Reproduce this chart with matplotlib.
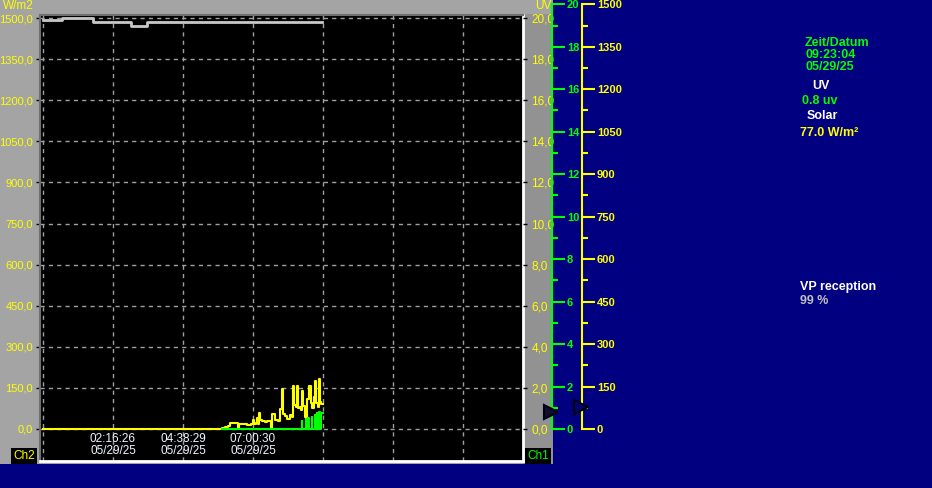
import matplotlib
matplotlib.use('Agg')
import matplotlib.pyplot as plt
import matplotlib.dates as md
from matplotlib.patches import Rectangle
import pandas as pd

plt.rcParams['font.family'] = ['Liberation Sans', 'DejaVu Sans']

# solar radiation (W/m2), step samples
solar_time = ['2025-05-28 23:54:24', '05:58', '06:04', '06:10', '06:14', '06:28', '06:30', '06:32',
              '06:48', '06:56', '07:00', '07:02', '07:06', '07:08', '07:10', '07:12', '07:15',
              '07:18', '07:24', '07:28', '07:38', '07:40', '07:46', '07:52', '07:56', '08:00',
              '08:02', '08:06', '08:10', '08:14', '08:16', '08:20', '08:22', '08:24', '08:28',
              '08:30', '08:32', '08:36', '08:38', '08:40', '08:42', '08:46', '08:48', '08:50',
              '08:54', '08:58', '09:01', '09:04', '09:06', '09:08', '09:12', '09:14', '09:16',
              '09:18', '09:22:32']
solar_val = [0, 3, 8, 12, 21, 21, 0, 17,
             15, 18, 32, 18, 22, 40, 20, 58, 32,
             28, 25, 30, 0, 55, 32, 30, 73, 146,
             55, 48, 35, 38, 50, 45, 157, 87, 80,
             157, 76, 82, 70, 137, 85, 45, 0, 109,
             157, 95, 78, 118, 175, 95, 80, 183, 98,
             90, 90]

# UV index, step samples
uv_time = ['05:58', '08:39', '08:40', '08:49', '08:50', '08:53', '08:54', '09:00',
           '09:01', '09:06', '09:07', '09:10', '09:11', '09:15', '09:16', '09:19', '09:22:32']
uv_val = [0, 0.4, 0, 0.5, 0, 0.55, 0, 0.6,
          0, 0.7, 0, 0.8, 0, 0.85, 0, 0.8, 0.8]

# VP reception (%), drawn on the solar scale (100 % = 1500)
rec_time = ['2025-05-28 23:54:24', '00:33', '01:36', '02:53', '03:25', '09:20']
rec_val = [99.5, 100, 99, 98, 99, 99]

grid_time = ['2025-05-28 23:54:24', '02:16:26', '04:38:29', '07:00:30', '09:22:32', '11:44:34', '14:06:36']
grid_label = ['', '02:16:26\n05/29/25', '04:38:29\n05/29/25', '07:00:30\n05/29/25', '', '', '']

solar_now = 77.0
uv_now = 0.8


def to_dt(lst):
    out = []
    for s in lst:
        if len(s) > 8:
            out.append(pd.Timestamp(s))
        else:
            out.append(pd.Timestamp('2025-05-29 ' + s))
    return md.date2num([t.to_pydatetime() for t in out])


NAVY = '#000080'
YEL = '#ffff00'
GRN = '#00ff00'
W, H = 932, 488

fig = plt.figure(figsize=(W / 100, H / 100), dpi=100, facecolor=NAVY)
fig.patches.append(Rectangle((0, 1 - 464 / H), 553 / W, 464 / H, transform=fig.transFigure,
                             facecolor='#a4a4a4', edgecolor='none', zorder=-10))
fig.patches.append(Rectangle((523 / W, 1 - 464 / H), 30 / W, 450 / H, transform=fig.transFigure,
                             facecolor='#929292', edgecolor='none', zorder=-9))

ts = to_dt(solar_time)
tu = to_dt(uv_time)
tr = to_dt(rec_time)
tg = to_dt(grid_time)

# time <-> pixel: 70 px per grid step
step = tg[2] - tg[1]
x0 = tg[1] - step * (113 - 40) / 70
x1 = tg[1] + step * (523 - 113) / 70
ppw = 1500 / (429 - 18)
ylo = -(461 - 429) * ppw
yhi = 1500 + 3 * ppw

ax = fig.add_axes([40 / W, 1 - 461 / H, 483 / W, 446 / H])
ax.set_facecolor('black')
ax.set_xlim(x0, x1)
ax.set_ylim(ylo, yhi)
ax.set_xticks(tg)
ax.set_xticklabels([])
ax.tick_params(axis='x', length=0)
ax.set_yticks(range(0, 1501, 150))
ax.set_yticklabels([('%.1f' % v).replace('.', ',') for v in range(0, 1501, 150)])
ax.tick_params(axis='y', length=3, width=1, color='black', labelcolor=YEL, labelsize=8, pad=2)
ax.grid(True, color='#a0a0a0', linestyle=(0, (3, 3)), linewidth=1)
for s in ['left', 'top']:
    ax.spines[s].set_color('#707070')
    ax.spines[s].set_linewidth(1.5)
for s in ['right', 'bottom']:
    ax.spines[s].set_color('white')
    ax.spines[s].set_linewidth(2)

ax.step(tr, [v * 15 for v in rec_val], where='post', color='#c8c8c8', lw=2, zorder=3)
ax.step(ts, solar_val, where='post', color=YEL, lw=1.5, zorder=4)

for t, lab in zip(tg, grid_label):
    if lab:
        ax.text(t, -60, lab, ha='center', va='center', color='#f0f4ff', fontsize=8.5,
                linespacing=1.0)

ax2 = ax.twinx()
ax2.set_ylim(ylo / 75, yhi / 75)
ax2.set_yticks(range(0, 21, 2))
ax2.set_yticklabels([('%.1f' % v).replace('.', ',') for v in range(0, 21, 2)])
ax2.tick_params(axis='y', length=3, width=1, color='black', labelcolor=YEL, labelsize=8.5, pad=3)
for s in ax2.spines.values():
    s.set_visible(False)
ax2.step(tu, uv_val, where='post', color=GRN, lw=1.5, zorder=5)

fig.text(3 / W, 1 - 6 / H, 'W/m2', color=YEL, fontsize=8.5, va='center', ha='left')
fig.text(551 / W, 1 - 6 / H, 'UV', color=YEL, fontsize=8.5, va='center', ha='right')
fig.text(24 / W, 1 - 456 / H, 'Ch2', color=YEL, fontsize=8.5, va='center', ha='center',
         bbox=dict(boxstyle='square,pad=0.15', fc='black', ec='none'))
fig.text(538 / W, 1 - 456 / H, 'Ch1', color=GRN, fontsize=8.5, va='center', ha='center',
         bbox=dict(boxstyle='square,pad=0.15', fc='black', ec='none'))


def scale_axis(xpx, top, lim, major, minor, col, now, mfc, mec):
    sa = fig.add_axes([xpx / W, 1 - 429 / H, 12 / W, (429 - top) / H])
    sa.set_facecolor('none')
    sa.set_xlim(0, 1)
    sa.set_ylim(0, lim)
    sa.set_xticks([])
    sa.set_yticks(major)
    sa.set_yticks(minor, minor=True)
    sa.set_yticklabels([str(v) for v in major])
    for k in ['right', 'top', 'bottom']:
        sa.spines[k].set_visible(False)
    sa.spines['left'].set_color(col)
    sa.spines['left'].set_linewidth(1.5)
    sa.tick_params(axis='y', which='both', direction='in', left=True, right=False,
                   labelleft=False, labelright=True, color=col, labelcolor=col, width=1.5, pad=2)
    sa.tick_params(axis='y', which='major', length=9, labelsize=8)
    sa.tick_params(axis='y', which='minor', length=4)
    for lab in sa.get_yticklabels():
        lab.set_fontweight('bold')
    sa.plot([-0.1], [now], marker='>', ms=10, mfc=mfc, mec=mec, mew=1.5, clip_on=False, zorder=6)
    return sa


scale_axis(552, 4.3, 20, list(range(0, 21, 2)), list(range(1, 20, 2)), GRN, uv_now,
           '#10102a', '#000018')
scale_axis(582, 4.3, 1500, list(range(0, 1501, 150)), list(range(75, 1500, 150)), YEL, solar_now,
           '#000070', '#000010')

panel = [
    (805, 43, 'Zeit/Datum', GRN),
    (806, 55, '09:23:04', GRN),
    (806, 67, '05/29/25', GRN),
    (812, 86, 'UV', 'white'),
    (802, 101, '%.1f uv' % uv_now, GRN),
    (807, 116, 'Solar', 'white'),
    (800, 133, '%.1f W/m²' % solar_now, YEL),
    (800, 287, 'VP reception', 'white'),
    (800, 301, '99 %', '#c0c0c0'),
]
for x, y, txt, col in panel:
    fig.text(x / W, 1 - y / H, txt, color=col, fontsize=9, fontweight='bold', va='center', ha='left')

fig.savefig('out.png', dpi=100, facecolor=NAVY)
